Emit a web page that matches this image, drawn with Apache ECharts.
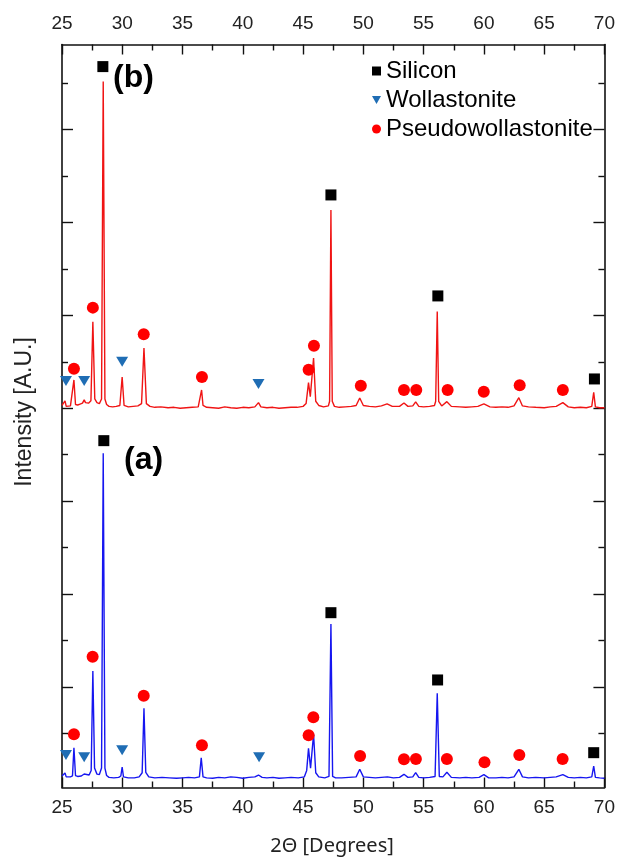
<!DOCTYPE html>
<html>
<head>
<meta charset="utf-8">
<script src="https://cdn.jsdelivr.net/npm/echarts@6/dist/echarts.min.js"></script>
<style>
html,body{margin:0;padding:0;background:#fff;}
#chart{width:618px;height:859px;}
</style>
</head>
<body>
<div id="chart"></div>
<script>
// ---- data (2θ in degrees, intensity in arbitrary units) ----
var xTicks = [25, 30, 35, 40, 45, 50, 55, 60, 65, 70];
var yMajorTicks = [2000, 4000, 6000, 8000, 10000, 12000, 14000];
var yMinorTicks = [1000, 3000, 5000, 7000, 9000, 11000, 13000, 15000];

var patternB = [
[25.0,8060],[25.15,8040],[25.25,8160],[25.35,8040],[25.5,8030],[25.7,8050],[25.85,8060],[25.99,8610],[26.12,8080],[26.3,8070],[26.5,8090],[26.7,8110],[26.84,8180],[26.95,8120],[27.2,8110],[27.4,8160],[27.56,9865],[27.72,8200],[27.9,8120],[28.1,8100],[28.28,8200],[28.42,15035],[28.56,8200],[28.7,8080],[28.9,8040],[29.2,8030],[29.5,8040],[29.8,8060],[29.99,8674],[30.15,8060],[30.5,8030],[30.9,8040],[31.3,8050],[31.6,8100],[31.8,9299],[32.0,8100],[32.3,8040],[32.7,8020],[33.2,8030],[33.8,8010],[34.3,8020],[34.8,8000],[35.3,8010],[35.8,8020],[36.3,8030],[36.45,8060],[36.58,8394],[36.7,8060],[37.0,8020],[37.5,8010],[38.0,8000],[38.5,8030],[39.0,8010],[39.5,8000],[40.0,8020],[40.5,8010],[41.0,8030],[41.3,8121],[41.5,8030],[42.0,8010],[42.5,8020],[43.0,8000],[43.5,8010],[44.0,8020],[44.5,8020],[45.0,8040],[45.25,8100],[45.45,8551],[45.6,8250],[45.87,9083],[46.05,8150],[46.3,8060],[46.7,8030],[47.1,8050],[47.2,8150],[47.31,12271],[47.42,8150],[47.6,8040],[48.0,8020],[48.5,8030],[49.0,8040],[49.4,8060],[49.7,8222],[50.0,8060],[50.5,8040],[51.0,8030],[51.5,8050],[51.97,8093],[52.4,8040],[53.0,8040],[53.37,8114],[53.7,8040],[54.1,8050],[54.34,8136],[54.6,8040],[55.0,8030],[55.5,8040],[55.9,8060],[56.0,8150],[56.13,10081],[56.25,8150],[56.5,8050],[56.93,8142],[57.3,8040],[58.0,8030],[58.5,8020],[59.0,8030],[59.5,8040],[60.0,8093],[60.5,8030],[61.0,8020],[61.5,8030],[62.0,8020],[62.5,8050],[62.9,8228],[63.2,8050],[63.7,8030],[64.3,8020],[65.0,8010],[65.5,8030],[66.0,8040],[66.55,8121],[67.0,8030],[67.5,8010],[68.0,8020],[68.5,8010],[68.95,8040],[69.11,8345],[69.25,8030],[69.6,8010],[70.0,8010]
];

var patternA = [
[25.0,80],[25.15,60],[25.25,144],[25.35,60],[25.5,50],[25.7,60],[25.87,80],[25.99,689],[26.12,90],[26.3,70],[26.6,80],[26.84,123],[27.0,90],[27.25,100],[27.42,200],[27.56,2341],[27.7,250],[27.9,120],[28.1,110],[28.28,250],[28.42,7031],[28.56,250],[28.7,90],[28.9,50],[29.3,40],[29.7,50],[29.88,80],[29.99,274],[30.1,60],[30.5,40],[31.0,40],[31.4,60],[31.65,150],[31.8,1538],[31.95,160],[32.2,60],[32.7,40],[33.3,50],[33.9,40],[34.5,30],[35.0,40],[35.5,50],[36.0,40],[36.4,60],[36.55,474],[36.7,60],[37.0,40],[37.5,30],[38.0,50],[38.5,40],[39.0,60],[39.5,50],[40.0,30],[40.5,50],[41.0,60],[41.3,101],[41.6,50],[42.0,40],[42.5,50],[43.0,30],[43.5,40],[44.0,50],[44.6,40],[45.1,60],[45.3,200],[45.45,676],[45.62,250],[45.87,978],[46.05,150],[46.3,60],[46.8,40],[47.15,70],[47.31,3354],[47.45,70],[47.7,40],[48.2,40],[48.8,50],[49.4,60],[49.7,224],[50.0,60],[50.5,50],[51.0,40],[51.5,50],[52.0,60],[52.5,40],[53.0,50],[53.37,116],[53.7,50],[54.1,60],[54.34,151],[54.6,50],[55.0,40],[55.5,50],[55.95,70],[56.13,1861],[56.3,70],[56.6,60],[56.93,159],[57.3,50],[58.0,40],[58.5,50],[59.0,40],[59.6,50],[60.0,108],[60.4,40],[61.0,40],[61.5,50],[62.0,40],[62.5,60],[62.9,224],[63.2,60],[63.7,40],[64.3,50],[65.0,40],[65.5,50],[66.0,60],[66.55,108],[67.0,50],[67.5,40],[68.0,50],[68.5,40],[68.95,60],[69.11,295],[69.25,50],[69.6,40],[70.0,30]
];

var siliconB = [[28.39,15358],[47.31,12594],[56.18,10419],[69.17,8631]];
var siliconA = [[28.47,7302],[47.31,3597],[56.16,2148],[69.11,582]];
var wollastoniteB = [[25.33,8588],[26.84,8588],[29.99,9004],[41.30,8523]];
var wollastoniteA = [[25.33,532],[26.84,483],[29.99,633],[41.35,483]];
var pseudoB = [[25.99,8853],[27.56,10167],[31.78,9594],[36.61,8674],[45.46,8831],[45.90,9348],[49.79,8487],[53.37,8394],[54.39,8394],[56.99,8394],[59.99,8357],[62.97,8495],[66.55,8394]];
var pseudoA = [[25.99,978],[27.54,2649],[31.78,1809],[36.61,741],[45.46,956],[45.85,1344],[49.73,510],[53.37,439],[54.36,446],[56.93,446],[60.05,375],[62.94,532],[66.53,446]];

var legendNames = ['Silicon', 'Wollastonite', 'Pseudowollastonite'];
var panelLabels = ['(a)', '(b)'];
var xTitle = '2\u0398 [Degrees]';
var yTitle = 'Intensity [A.U.]';

// ---- chart ----
var chart = echarts.init(document.getElementById('chart'), null, {renderer: 'canvas'});
var Y_MIN = -168, Y_MAX = 15834;
var axisColor = '#111';
var labelFont = {fontFamily: 'Liberation Sans, Arial, sans-serif', fontSize: 19, color: '#222'};
var triDown = 'path://M0,0L10,0L5,9Z';

function xAxisDef(pos) {
  return {
    type: 'value', position: pos, min: 25, max: 70, interval: 5,
    axisLine: {show: true, onZero: false, lineStyle: {color: axisColor, width: 1.6}},
    axisTick: {show: true, inside: true, length: 10, lineStyle: {color: axisColor, width: 1.4}},
    minorTick: {show: true, splitNumber: 2, length: 6, lineStyle: {color: axisColor, width: 1.4}},
    axisLabel: Object.assign({show: true, margin: 11, customValues: xTicks}, labelFont),
    splitLine: {show: false}, minorSplitLine: {show: false}
  };
}
function yAxisDef(pos, ticks, len, showLine) {
  return {
    type: 'value', position: pos, min: Y_MIN, max: Y_MAX,
    axisLine: {show: showLine, onZero: false, lineStyle: {color: axisColor, width: 1.6}},
    axisTick: {show: true, inside: true, length: len, customValues: ticks, lineStyle: {color: axisColor, width: 1.4}},
    axisLabel: {show: false},
    splitLine: {show: false}
  };
}

var option = {
  animation: false,
  backgroundColor: '#fff',
  grid: {left: 62, right: 12, top: 44.5, bottom: 71.5, containLabel: false},
  xAxis: [xAxisDef('bottom'), xAxisDef('top')],
  yAxis: [
    yAxisDef('left', yMajorTicks, 11, true),
    yAxisDef('left', yMinorTicks, 6, false),
    yAxisDef('right', yMajorTicks, 11, true),
    yAxisDef('right', yMinorTicks, 6, false)
  ],
  legend: {
    data: legendNames.map(function (n) { return {name: n}; }),
    orient: 'vertical', left: 372, top: 59,
    itemWidth: 9, itemHeight: 9, itemGap: 5, padding: 0,
    textStyle: {fontFamily: 'Liberation Sans, Arial, sans-serif', fontSize: 24, color: '#000'},
    selectedMode: false
  },
  graphic: [
    {type: 'text', left: 113, top: 62, style: {text: panelLabels[1], font: 'bold 32px "Liberation Sans", Arial, sans-serif', fill: '#000'}},
    {type: 'text', left: 124, top: 444, style: {text: panelLabels[0], font: 'bold 32px "Liberation Sans", Arial, sans-serif', fill: '#000'}},
    {type: 'text', x: 332, y: 846, style: {text: xTitle, font: '20px "Noto Sans", sans-serif', fill: '#222', align: 'center', verticalAlign: 'middle'}},
    {type: 'text', x: 25, y: 412, rotation: Math.PI / 2, style: {text: yTitle, font: '23px "Liberation Sans", Arial, sans-serif', fill: '#222', align: 'center', verticalAlign: 'middle'}}
  ],
  series: [
    {name: 'b', type: 'line', data: patternB, showSymbol: false, xAxisIndex: 0, yAxisIndex: 0,
     lineStyle: {color: '#f01414', width: 1.4}, z: 2},
    {name: 'a', type: 'line', data: patternA, showSymbol: false, xAxisIndex: 0, yAxisIndex: 0,
     lineStyle: {color: '#1616f0', width: 1.4}, z: 2},
    {name: legendNames[0], type: 'scatter', data: siliconB.concat(siliconA), symbol: 'rect', symbolSize: 11,
     itemStyle: {color: '#000', opacity: 1}, z: 5},
    {name: legendNames[1], type: 'scatter', data: wollastoniteB.concat(wollastoniteA), symbol: triDown, symbolSize: [12, 10],
     itemStyle: {color: '#1f6db4', opacity: 1}, z: 5},
    {name: legendNames[2], type: 'scatter', data: pseudoB.concat(pseudoA), symbol: 'circle', symbolSize: 12,
     itemStyle: {color: '#ff0000', opacity: 1}, z: 5}
  ]
};
chart.setOption(option);
</script>
</body>
</html>
